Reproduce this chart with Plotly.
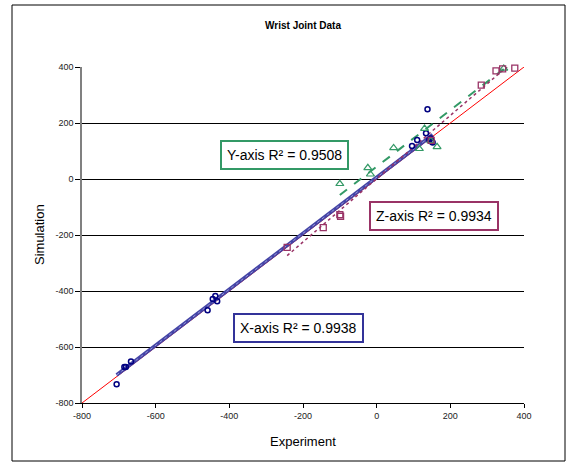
import plotly.graph_objects as go
import numpy as np

# ---- data ----
exp_x = [-706, -685, -681, -667, -459, -445, -438, -433, 96, 110, 134, 138, 143, 147, 150, 152]
sim_x = [-733, -671, -671, -652, -469, -429, -418, -437, 118, 139, 163, 249, 140, 145, 133, 130]

exp_y = [-100, -24, -17, 46, 116, 130, 147, 164, 345]
sim_y = [-17, 40, 17, 111, 108, 180, 136, 115, 395]

exp_z = [-243, -145, -100, -98, 148, 284, 324, 342, 375]
sim_z = [-244, -174, -127, -133, 138, 335, 386, 393, 396]

# linear trendline coefficients (slope, intercept)
trend_x = [1.00, 6]
trend_y = [1.01, 44]
trend_z = [1.13, 1]

r2_labels = ["X-axis R² = 0.9938", "Y-axis R² = 0.9508", "Z-axis R² = 0.9934"]

tick_vals = [-800, -600, -400, -200, 0, 200, 400]
tick_text = ["-800", "-600", "-400", "-200", "0", "200", "400"]

C_X = "#000080"
C_XL = "#4444a6"
C_Y = "#339966"
C_Z = "#993366"

def trend(xs, coef):
    xr = np.array([min(xs), max(xs)], dtype=float)
    return xr, coef[0] * xr + coef[1]

fig = go.Figure()

# identity line
fig.add_trace(go.Scatter(x=[tick_vals[0], tick_vals[-1]], y=[tick_vals[0], tick_vals[-1]],
                         mode="lines", line=dict(color="#ff0000", width=1), hoverinfo="skip"))

# trendlines
tx, ty = trend(exp_x, trend_x)
fig.add_trace(go.Scatter(x=tx, y=ty, mode="lines", line=dict(color=C_XL, width=3.5)))
fig.add_trace(go.Scatter(x=tx, y=ty, mode="lines", line=dict(color="#9a9ad8", width=1, dash="dot")))
tx, ty = trend(exp_y, trend_y)
fig.add_trace(go.Scatter(x=tx, y=ty, mode="lines", line=dict(color=C_Y, width=2, dash="dash")))
tx, ty = trend(exp_z, trend_z)
fig.add_trace(go.Scatter(x=tx, y=ty, mode="lines", line=dict(color=C_Z, width=1.5, dash="dot")))

# markers
fig.add_trace(go.Scatter(x=exp_x, y=sim_x, mode="markers", cliponaxis=False,
                         marker=dict(symbol="circle-open", size=5, color=C_X, line=dict(width=1.5))))
fig.add_trace(go.Scatter(x=exp_y, y=sim_y, mode="markers", cliponaxis=False,
                         marker=dict(symbol="triangle-up-open", size=7, color=C_Y, line=dict(width=1.2))))
fig.add_trace(go.Scatter(x=exp_z, y=sim_z, mode="markers", cliponaxis=False,
                         marker=dict(symbol="square-open", size=6, color=C_Z, line=dict(width=1.3))))

W, H = 575, 466
L, R, T, B = 82, 51, 67, 63
pw, ph = W - L - R, H - T - B

def px(x):
    return (x - L) / pw

def py(y):
    return (H - B - y) / ph

font = "Liberation Sans, Arial, sans-serif"
annos = []
for text, col, cx, cy in [(r2_labels[1], C_Y, 284, 155), (r2_labels[2], C_Z, 434, 216), (r2_labels[0], "#333399", 298, 328)]:
    annos.append(dict(text=text, x=px(cx), y=py(cy), xref="paper", yref="paper", xanchor="center", yanchor="middle",
                      showarrow=False, font=dict(family=font, size=14, color="#000"),
                      bordercolor=col, borderwidth=2, borderpad=5, bgcolor="white"))
annos.append(dict(text="Experiment", x=px(303), y=py(441), xref="paper", yref="paper", xanchor="center",
                  yanchor="middle", showarrow=False, font=dict(family=font, size=13, color="#000")))
annos.append(dict(text="Simulation", x=px(39), y=py(235), xref="paper", yref="paper", xanchor="center",
                  yanchor="middle", showarrow=False, textangle=-90, font=dict(family=font, size=13, color="#000")))

fig.update_layout(
    width=W, height=H, margin=dict(l=L, r=R, t=T, b=B),
    paper_bgcolor="white", plot_bgcolor="white", showlegend=False,
    title=dict(text="<b>Wrist Joint Data</b>", x=0.5, xref="paper", xanchor="center",
               y=1 - 25 / H, yref="container", yanchor="middle",
               font=dict(family=font, size=10, color="#000")),
    annotations=annos,
    shapes=[dict(type="rect", xref="paper", yref="paper", x0=px(12), x1=px(565), y0=py(461), y1=py(5),
                 line=dict(color="#000", width=1), fillcolor="rgba(0,0,0,0)", layer="below")],
)
fig.update_xaxes(range=[-800, 400], tickvals=tick_vals, ticktext=tick_text, showgrid=False, zeroline=False,
                 showline=True, linecolor="#000", linewidth=1, ticks="outside", ticklen=4, tickcolor="#000",
                 tickfont=dict(family=font, size=9, color="#222"))
fig.update_yaxes(range=[-800, 400], tickvals=tick_vals, ticktext=tick_text, showgrid=True, gridcolor="#000",
                 gridwidth=1, zeroline=False, showline=True, linecolor="#808080", linewidth=1.5,
                 ticks="outside", ticklen=5, tickcolor="#000", tickfont=dict(family=font, size=9, color="#222"))

fig.write_html("out.html")
